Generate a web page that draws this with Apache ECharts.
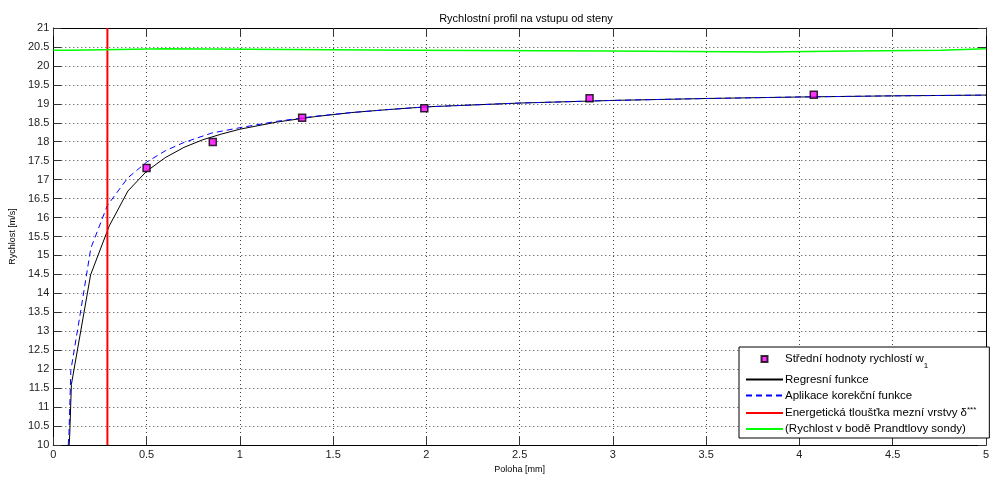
<!DOCTYPE html>
<html>
<head>
<meta charset="utf-8">
<script src="https://cdn.jsdelivr.net/npm/echarts@6/dist/echarts.min.js"></script>
<style>
  html, body { margin: 0; padding: 0; background: #fff; }
  #main { width: 992px; height: 479px; }
</style>
</head>
<body>
<div id="main"></div>
<script>
// stredni hodnoty (body mereni)
const meanX = [0.5, 0.855, 1.334, 1.989, 2.875, 4.077];
const meanY = [17.31, 17.99, 18.63, 18.88, 19.15, 19.24];

// regresni funkce
const regX = [0.085, 0.088, 0.097, 0.2, 0.3, 0.4, 0.5, 0.6, 0.7, 0.8, 0.9, 1.0, 1.2, 1.4, 1.6, 1.8, 2.0, 2.5, 3.0, 3.5, 4.0, 4.5, 5.0];
const regY = [10.0, 10.27, 11.6, 14.49, 15.78, 16.7, 17.22, 17.58, 17.85, 18.05, 18.2, 18.33, 18.52, 18.66, 18.77, 18.85, 18.92, 19.02, 19.09, 19.14, 19.18, 19.21, 19.23];

// aplikace korekcni funkce
const corX = [0.08, 0.084, 0.094, 0.144, 0.201, 0.242, 0.29, 0.4, 0.5, 0.6, 0.7, 0.85, 1.0, 1.2, 1.4, 1.6, 1.8, 2.0, 2.5, 3.0, 3.5, 4.0, 4.5, 5.0];
const corY = [10.0, 10.3, 11.97, 13.45, 15.19, 15.71, 16.32, 17.05, 17.46, 17.76, 17.98, 18.23, 18.37, 18.54, 18.67, 18.77, 18.85, 18.92, 19.02, 19.09, 19.14, 19.18, 19.21, 19.23];

// energeticka tloustka mezni vrstvy
const deltaX = [0.29, 0.29];
const deltaY = [10, 21];

// rychlost v bode Prandtlovy sondy
const sondaX = [0, 0.09, 0.6, 1.94, 2.98, 3.82, 4.29, 4.76, 5.0];
const sondaY = [20.41, 20.45, 20.41, 20.39, 20.37, 20.39, 20.41, 20.45, 20.45];

const xTicks = { min: 0, max: 5, interval: 0.5 };
const yTicks = { min: 10, max: 21, interval: 0.5 };

const names = [
  "Střední hodnoty rychlostí w1",
  "Regresní funkce",
  "Aplikace korekční funkce",
  "Energetická tloušťka mezní vrstvy δ***",
  "(Rychlost v bodě Prandtlovy sondy)"
];

function pairs(xs, ys) {
  return xs.map((x, i) => [x, ys[i]]);
}

const font = "Liberation Sans";
const myChart = echarts.init(document.getElementById("main"));

const tickStyle = { color: "#333", width: 1 };
// ikonka legendy: maly ctverecek uprostred
const squareIcon = "path://M0,0M37,12M15.5,3h6v6h-6z";
const hideSymbol = { opacity: 0 };

const option = {
  backgroundColor: "#fff",
  animation: false,
  title: {
    text: "Rychlostní profil na vstupu od steny",
    left: 521,
    top: 8,
    textAlign: "center",
    textStyle: { fontFamily: font, fontSize: 11, fontWeight: "normal", color: "#000" }
  },
  grid: { left: 53, right: 2, top: 28, bottom: 31, containLabel: false },
  legend: {
    orient: "vertical",
    left: 739,
    top: 347,
    padding: [5, 13, 3, 6],
    itemGap: 4,
    itemWidth: 37,
    itemHeight: 12,
    backgroundColor: "#fff",
    borderColor: "#000",
    borderWidth: 1,
    borderRadius: 0,
    symbolKeepAspect: true,
    data: [
      { name: names[0], icon: squareIcon },
      { name: names[1], itemStyle: hideSymbol },
      { name: names[2], itemStyle: hideSymbol },
      { name: names[3], itemStyle: hideSymbol },
      { name: names[4], itemStyle: hideSymbol }
    ],
    formatter: function (name) {
      if (name === names[0]) return "Střední hodnoty rychlostí w{sub|1}";
      if (name === names[3]) return "Energetická tloušťka mezní vrstvy δ{sup|***}";
      return name;
    },
    textStyle: {
      fontFamily: font,
      fontSize: 11.5,
      color: "#000",
      padding: [0, 0, 0, -3],
      rich: {
        sub: { fontFamily: font, fontSize: 8, padding: [13, 0, 0, 0] },
        sup: { fontFamily: font, fontSize: 8, padding: [0, 0, 7, 0] }
      }
    }
  },
  xAxis: [
    {
      type: "value",
      min: xTicks.min,
      max: xTicks.max,
      interval: xTicks.interval,
      name: "Poloha [mm]",
      nameLocation: "middle",
      nameGap: 20,
      nameTextStyle: { fontFamily: font, fontSize: 9, color: "#000" },
      axisLine: { onZero: false, lineStyle: { color: "#000", width: 1 } },
      axisTick: { inside: true, length: 8, lineStyle: tickStyle },
      axisLabel: { fontFamily: font, fontSize: 11, color: "#222", margin: 4 },
      splitLine: { show: true, lineStyle: { color: "#444", type: [1, 3], width: 1 } }
    },
    {
      type: "value",
      position: "top",
      min: xTicks.min,
      max: xTicks.max,
      interval: xTicks.interval,
      axisLine: { onZero: false, lineStyle: { color: "#000", width: 1 } },
      axisTick: { inside: true, length: 8, lineStyle: tickStyle },
      axisLabel: { show: false },
      splitLine: { show: false }
    }
  ],
  yAxis: [
    {
      type: "value",
      min: yTicks.min,
      max: yTicks.max,
      interval: yTicks.interval,
      name: "Rychlost [m/s]",
      nameLocation: "middle",
      nameGap: 31,
      nameTextStyle: { fontFamily: font, fontSize: 9, color: "#000" },
      axisLine: { show: true, onZero: false, lineStyle: { color: "#000", width: 1 } },
      axisTick: { show: true, inside: true, length: 8, lineStyle: tickStyle },
      axisLabel: { fontFamily: font, fontSize: 11, color: "#222", margin: 4 },
      splitLine: { show: true, lineStyle: { color: "#444", type: [1, 3], width: 1 } }
    },
    {
      type: "value",
      position: "right",
      min: yTicks.min,
      max: yTicks.max,
      interval: yTicks.interval,
      axisLine: { show: true, onZero: false, lineStyle: { color: "#000", width: 1 } },
      axisTick: { show: true, inside: true, length: 8, lineStyle: tickStyle },
      axisLabel: { show: false },
      splitLine: { show: false }
    }
  ],
  series: [
    {
      name: names[0],
      type: "scatter",
      symbol: "rect",
      symbolSize: 7,
      z: 10,
      itemStyle: { color: "#ff00ff", borderColor: "#000", borderWidth: 1.5 },
      data: pairs(meanX, meanY)
    },
    {
      name: names[1],
      type: "line",
      symbol: "none",
      z: 3,
      lineStyle: { color: "#000", width: 1 },
      itemStyle: { color: "#000" },
      data: pairs(regX, regY)
    },
    {
      name: names[2],
      type: "line",
      symbol: "none",
      z: 4,
      lineStyle: { color: "#0000ff", width: 1, type: [6, 4] },
      itemStyle: { color: "#0000ff" },
      data: pairs(corX, corY)
    },
    {
      name: names[3],
      type: "line",
      symbol: "none",
      z: 5,
      lineStyle: { color: "#ff0000", width: 2 },
      itemStyle: { color: "#ff0000" },
      data: pairs(deltaX, deltaY)
    },
    {
      name: names[4],
      type: "line",
      symbol: "none",
      step: "end",
      z: 5,
      lineStyle: { color: "#00ff00", width: 1.5 },
      itemStyle: { color: "#00ff00" },
      data: pairs(sondaX, sondaY)
    }
  ]
};

myChart.setOption(option);
window.addEventListener("resize", () => {
  myChart.resize();
});
</script>
</body>
</html>
